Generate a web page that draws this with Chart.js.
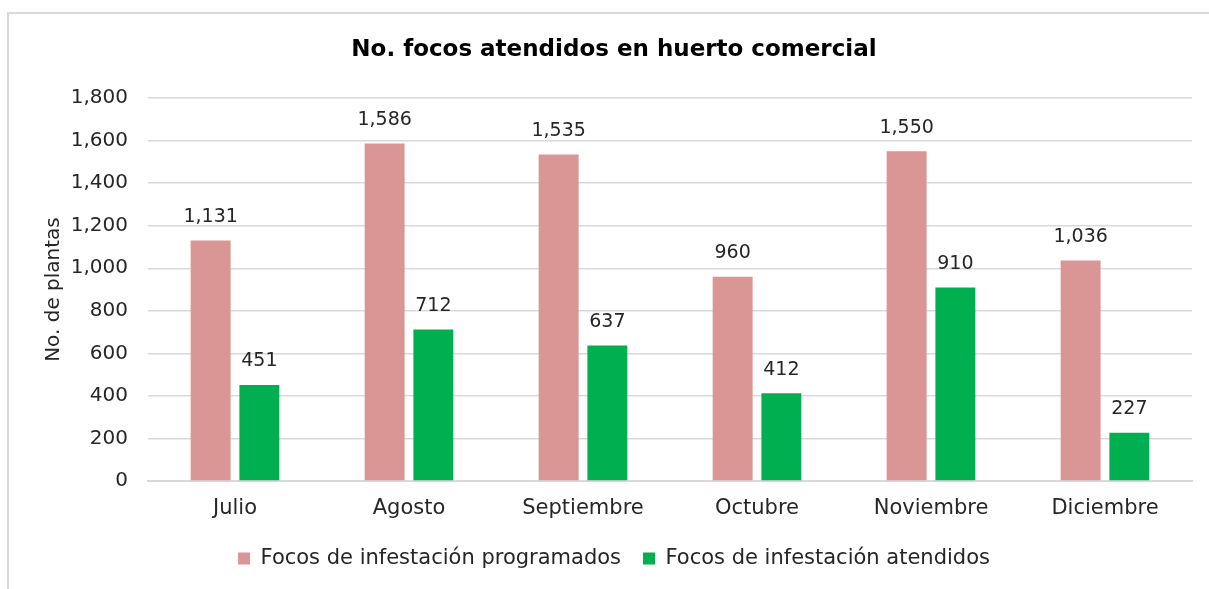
<!DOCTYPE html>
<html>
<head>
<meta charset="utf-8">
<script src="https://cdn.jsdelivr.net/npm/chart.js@4"></script>
<style>
  html, body { margin: 0; padding: 0; background: #fff; overflow: hidden; }
  #marco { position: absolute; left: 7px; top: 12px; width: 1230px; height: 620px; border: 2px solid #d9d9d9; box-sizing: border-box; }
  #caja { position: absolute; left: 0; top: 0; width: 1209px; height: 589px; }
</style>
</head>
<body>
<div id="marco"></div>
<div id="caja"><canvas id="myChart01"></canvas></div>
<script>
// datos
var meses = ["Julio", "Agosto", "Septiembre", "Octubre", "Noviembre", "Diciembre"];
var programados = [1131, 1586, 1535, 960, 1550, 1036];
var atendidos = [451, 712, 637, 412, 910, 227];

var fuente = "'DejaVu Sans', sans-serif";
var gris = "#d9d9d9";
var texto = "#262626";

// etiquetas de valor sobre cada barra
var etiquetas = {
    id: 'etiquetas',
    afterDatasetsDraw: function(chart) {
        var ctx = chart.ctx;
        ctx.save();
        ctx.font = "19px " + fuente;
        ctx.fillStyle = texto;
        ctx.textAlign = "center";
        ctx.textBaseline = "bottom";
        chart.data.datasets.forEach(function(ds, i) {
            var meta = chart.getDatasetMeta(i);
            meta.data.forEach(function(bar, j) {
                ctx.fillText(ds.data[j].toLocaleString('en-US'), bar.x, bar.y - 14);
            });
        });
        ctx.restore();
    }
};

var chartPlaceholder01 = document.getElementById("myChart01");
var newChart01 = new Chart(chartPlaceholder01, {
    type: 'bar',
    data: {
        labels: meses,
        datasets: [
            {
                label: "Focos de infestación programados",
                data: programados,
                backgroundColor: "#da9694",
                categoryPercentage: 0.56,
                barPercentage: 0.82
            },
            {
                label: "Focos de infestación atendidos",
                data: atendidos,
                backgroundColor: "#00b050",
                categoryPercentage: 0.56,
                barPercentage: 0.82
            }
        ]
    },
    plugins: [etiquetas],
    options: {
        responsive: true,
        maintainAspectRatio: false,
        animation: false,
        locale: 'en-US',
        layout: { padding: { left: 36, right: 17, top: 0, bottom: 10 } },
        plugins: {
            title: {
                display: true,
                text: "No. focos atendidos en huerto comercial",
                color: "#000",
                font: { family: fuente, size: 23, weight: 'bold' },
                padding: { top: 36, bottom: 34.5 }
            },
            legend: {
                position: 'bottom',
                labels: {
                    color: texto,
                    font: { family: fuente, size: 21 },
                    boxWidth: 12,
                    boxHeight: 12,
                    padding: 22
                }
            },
            tooltip: { enabled: false }
        },
        scales: {
            x: {
                afterFit: function(scale) { scale.height = 45; },
                grid: { display: false, drawTicks: false },
                border: { color: gris, width: 2 },
                ticks: { color: texto, font: { family: fuente, size: 21 }, padding: 15 }
            },
            y: {
                min: 0,
                max: 1800,
                afterFit: function(scale) { scale.width = 112; },
                grid: { color: gris, lineWidth: 1.5, drawTicks: false },
                border: { display: false },
                ticks: { stepSize: 200, color: texto, font: { family: fuente, size: 20 }, padding: 20 },
                title: {
                    display: true,
                    text: "No. de plantas",
                    color: texto,
                    font: { family: fuente, size: 20 },
                    padding: { top: 6, bottom: 0 }
                }
            }
        }
    }
});
</script>
</body>
</html>
